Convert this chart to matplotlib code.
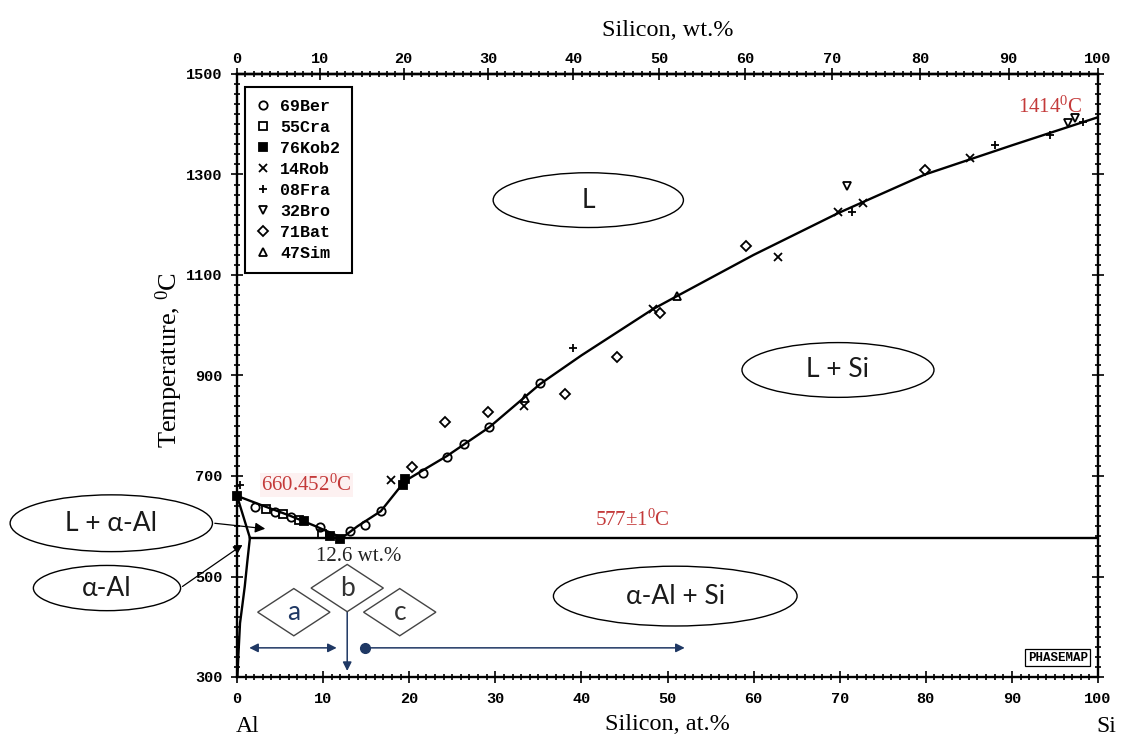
import numpy as np
import matplotlib
matplotlib.use('Agg')
import matplotlib.pyplot as plt
from matplotlib.patches import Ellipse, Polygon
from matplotlib.ticker import MultipleLocator
from matplotlib.font_manager import FontProperties

# ---------------- fonts ----------------
plt.rcParams['font.family'] = 'Liberation Serif'
plt.rcParams['mathtext.fontset'] = 'custom'
plt.rcParams['mathtext.rm'] = 'Liberation Serif'

# ---------------- phase boundaries (at.% Si, deg C) ----------------
liq_al_x = [0, 3, 6, 9, 12.2]
liq_al_T = [660.452, 641, 622, 601, 577]
liq_si_x = [12.2, 14, 16.7, 19.5, 24.4, 29.3, 35.2, 40, 48.3, 51.1, 60, 69.8, 79.9, 90, 100]
liq_si_T = [577, 600, 630, 690, 740, 797, 883, 940, 1032, 1058, 1140, 1223, 1300, 1358, 1414]
solidus_x = [0, 1.5]
solidus_T = [660.452, 577]
solvus_x = [1.5, 1.2, 0.9, 0.6, 0.35, 0.15, 0.05]
solvus_T = [577, 530, 480, 440, 407, 340, 300]
eutectic_x = [1.5, 100]
eutectic_T = [577, 577]

# ---------------- experimental points ----------------
ber_x = [2.1, 4.4, 6.3, 9.6, 13.1, 14.9, 16.7, 21.6, 24.4, 26.4, 29.3, 35.2]
ber_T = [638, 628, 618, 598, 590, 602, 630, 706, 738, 764, 797, 885]
cra_x = [3.4, 5.3, 7.2, 9.9]
cra_T = [634, 624, 613, 584]
kob_x = [0.0, 7.8, 10.8, 12.0, 19.3, 19.5]
kob_T = [660, 611, 580, 575, 682, 694]
rob_x = [17.9, 33.3, 48.3, 62.8, 69.8, 72.7, 85.1]
rob_T = [692, 840, 1032, 1136, 1225, 1243, 1333]
fra_x = [0.4, 39.0, 71.4, 88.0, 94.4, 98.3]
fra_T = [682, 955, 1225, 1359, 1379, 1404]
bro_x = [70.8, 96.5, 97.3]
bro_T = [1277, 1402, 1412]
bat_x = [20.3, 24.2, 29.2, 38.1, 44.1, 49.1, 59.1, 79.9]
bat_T = [718, 807, 827, 863, 937, 1024, 1158, 1309]
sim_x = [33.4, 51.1]
sim_T = [855, 1058]

series_labels = ['69Ber', '55Cra', '76Kob2', '14Rob', '08Fra', '32Bro', '71Bat', '47Sim']

x_ticks = list(range(0, 101, 10))
wt_ticks = list(range(0, 101, 10))
T_ticks = list(range(300, 1501, 200))

region_labels = ['L', 'L + Si', 'α-Al + Si', 'L + α-Al', 'α-Al']
diamond_labels = ['a', 'b', 'c']

red = '#c43a3a'
navy = '#1f3864'


def at2wt(a):
    a = np.asarray(a, dtype=float)
    return a * 28.0855 / (a * 28.0855 + (100 - a) * 26.98154) * 100


def wt2at(w):
    w = np.asarray(w, dtype=float)
    return (w / 28.0855) / (w / 28.0855 + (100 - w) / 26.98154) * 100


fig = plt.figure(figsize=(11.28, 7.46), dpi=100)
ax = fig.add_axes([237 / 1128, 69 / 746, 861 / 1128, 603 / 746])

# phase lines
lw = 1.7
ax.plot(liq_al_x, liq_al_T, color='k', lw=lw)
ax.plot(liq_si_x, liq_si_T, color='k', lw=lw)
ax.plot(solidus_x, solidus_T, color='k', lw=lw)
ax.plot(solvus_x, solvus_T, color='k', lw=lw)
ax.plot(eutectic_x, eutectic_T, color='k', lw=lw)

# data points
pts = [
    (ber_x, ber_T, 'o', 'none'),
    (cra_x, cra_T, 's', 'none'),
    (kob_x, kob_T, 's', 'k'),
    (rob_x, rob_T, 'x', 'none'),
    (fra_x, fra_T, '+', 'none'),
    (bro_x, bro_T, 'v', 'none'),
    (bat_x, bat_T, 'D', 'none'),
    (sim_x, sim_T, '^', 'none'),
]
for (xs, ts, mk, fc), lab in zip(pts, series_labels):
    ms = 4.6 if mk == 'D' else 6
    ax.plot(xs, ts, ls='none', marker=mk, mfc=fc, mec='k', mew=1.3, ms=ms,
            label=lab, clip_on=False)

ax.set_xlim(0, 100)
ax.set_ylim(300, 1500)
ax.set_xticks(x_ticks)
ax.set_yticks(T_ticks)
ax.xaxis.set_minor_locator(MultipleLocator(1))
ax.yaxis.set_minor_locator(MultipleLocator(20))
ax.tick_params(which='both', direction='inout', right=True, width=1.2)
ax.tick_params(which='major', length=9, pad=6)
ax.tick_params(which='minor', length=4)
for s in ax.spines.values():
    s.set_linewidth(1.7)

tick_font = FontProperties(family='Liberation Mono', weight='bold', size=11)
for lab in ax.get_xticklabels() + ax.get_yticklabels():
    lab.set_fontproperties(tick_font)

secax = ax.secondary_xaxis('top', functions=(at2wt, wt2at))
secax.set_xticks(wt_ticks)
secax.xaxis.set_minor_locator(MultipleLocator(1))
secax.tick_params(which='both', direction='inout', width=1.2)
secax.tick_params(which='major', length=9, pad=1)
secax.tick_params(which='minor', length=4)
secax.spines['top'].set_linewidth(1.7)
for lab in secax.get_xticklabels():
    lab.set_fontproperties(tick_font)

secax.set_xlabel('Silicon, wt.%', fontsize=17.5, labelpad=12)
ax.set_xlabel('Silicon, at.%', fontsize=17.5, labelpad=6)
ax.set_ylabel('Temperature, $\\mathregular{^0}$C', fontsize=19)
ax.yaxis.set_label_coords(-0.060, 0.526)

fig.text(248 / 1128, 1 - 727 / 746, 'Al', fontsize=17, ha='center', va='center')
fig.text(1106 / 1128, 1 - 726 / 746, 'Si', fontsize=17, ha='center', va='center')

# legend
leg = ax.legend(loc='upper left', bbox_to_anchor=(0.0093, 0.978), borderaxespad=0,
                frameon=True, fancybox=False, edgecolor='black', framealpha=1,
                prop=FontProperties(family='Liberation Mono', weight='bold', size=12),
                handlelength=0.8, handletextpad=0.6, labelspacing=0.36, borderpad=0.7)
leg.get_frame().set_linewidth(1.5)

# region ellipses (centre x, centre T, width, height)
ell_geo = [(40.8, 1249, 22.1, 109), (69.8, 911, 22.3, 109), (50.9, 461, 28.3, 119),
           (-14.6, 606, 23.5, 113), (-15.1, 477, 17.1, 90)]
for (cx, cy, w, h), lab in zip(ell_geo, region_labels):
    ax.add_patch(Ellipse((cx, cy), w, h, fc='white', ec='k', lw=1.0, clip_on=False, zorder=3))
    ax.text(cx, cy, lab, ha='center', va='center', fontsize=19, color='#1a1a1a',
            family=['Lato', 'DejaVu Sans'], zorder=4, clip_on=False)

# diamonds a, b, c
dia_geo = [(6.6, 429), (12.8, 477), (18.9, 429)]
dia_colors = [navy, '#333333', '#333333']
hw, hh = 4.2, 47
for (cx, cy), lab, col in zip(dia_geo, diamond_labels, dia_colors):
    ax.add_patch(Polygon([(cx - hw, cy), (cx, cy + hh), (cx + hw, cy), (cx, cy - hh)],
                         closed=True, fc='white', ec='#444444', lw=1.0, zorder=3))
    ax.text(cx, cy, lab, ha='center', va='center', fontsize=19, color=col,
            family=['Lato', 'DejaVu Sans'], zorder=4)

# arrows
ax.annotate('', xy=(3.6, 594.5), xytext=(-2.9, 606.5), annotation_clip=False,
            arrowprops=dict(arrowstyle='-|>', color='k', lw=0.9, mutation_scale=15))
ax.annotate('', xy=(0.9, 566), xytext=(-6.6, 477), annotation_clip=False,
            arrowprops=dict(arrowstyle='-|>', color='k', lw=0.9, mutation_scale=13))
ax.annotate('', xy=(11.9, 358), xytext=(1.1, 358),
            arrowprops=dict(arrowstyle='<|-|>', color=navy, lw=1.1, mutation_scale=13))
ax.annotate('', xy=(12.8, 312), xytext=(12.8, 430), zorder=2,
            arrowprops=dict(arrowstyle='-|>', color=navy, lw=1.1, mutation_scale=13,
                            shrinkA=0, shrinkB=0))
ax.plot([14.9], [358], 'o', color=navy, ms=7)
ax.annotate('', xy=(52.0, 358), xytext=(14.9, 358),
            arrowprops=dict(arrowstyle='-|>', color=navy, lw=1.1, mutation_scale=13,
                            shrinkA=0, shrinkB=0))

# temperature annotations
ax.text(8.1, 682, '660.452$\\mathregular{^0}$C', color=red, fontsize=15,
        ha='center', va='center', bbox=dict(fc='#fdf1f1', ec='none', pad=1))
ax.text(45.9, 612, '577±1$\\mathregular{^0}$C', color=red, fontsize=15,
        ha='center', va='center')
ax.text(94.5, 1434, '1414$\\mathregular{^0}$C', color=red, fontsize=15,
        ha='center', va='center')
ax.text(14.1, 539, '12.6 wt.%', color='#222222', fontsize=15, ha='center', va='center',
        bbox=dict(fc='white', ec='none', pad=0.5), zorder=2)

ax.text(0.988, 0.022, 'PHASEMAP', transform=ax.transAxes, ha='right', va='bottom',
        fontsize=9, fontweight='bold', family='Liberation Mono',
        bbox=dict(boxstyle='square,pad=0.2', fc='white', ec='k', lw=0.9))

fig.savefig('out.png', dpi=100)
